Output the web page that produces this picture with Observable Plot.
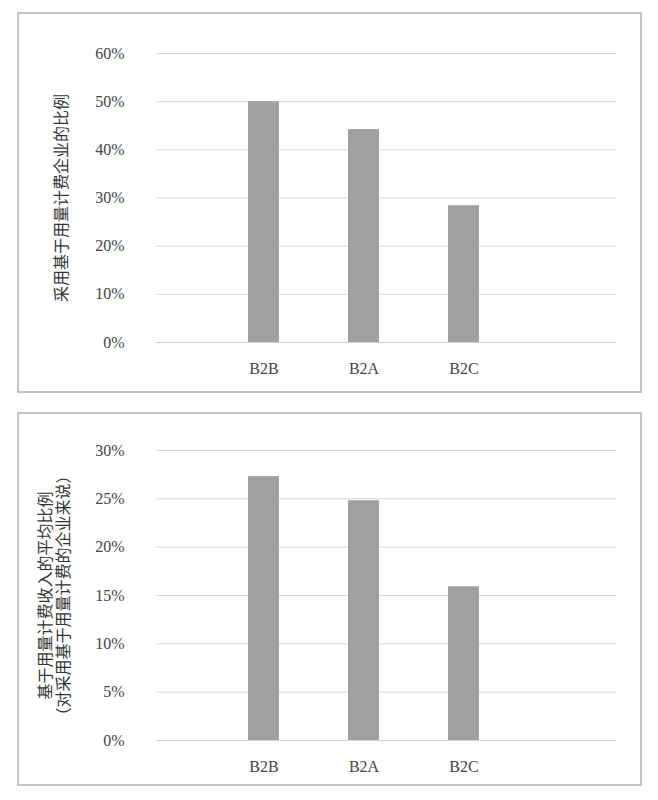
<!DOCTYPE html>
<html><head><meta charset="utf-8">
<script src="https://cdn.jsdelivr.net/npm/d3@7"></script>
<script src="https://cdn.jsdelivr.net/npm/@observablehq/plot@0.6"></script>
<style>
body{margin:0;background:#fff;font-family:"Liberation Serif","Noto Sans CJK SC",serif;}
.panel{position:absolute;left:17px;width:621px;border:2px solid #c4c4c4;background:#fff}
</style></head><body>
<div class="panel" id="p1" style="top:12px;height:377px"></div>
<div class="panel" id="p2" style="top:412px;height:370px"></div>
<script>
const categories = ["B2B", "B2A", "B2C"]
// 采用基于用量计费企业的比例
const shareValues = [0.50, 0.442, 0.284]
const shareTicks = [0, 0.1, 0.2, 0.3, 0.4, 0.5, 0.6]
// 基于用量计费收入的平均比例
const revenueValues = [0.273, 0.248, 0.159]
const revenueTicks = [0, 0.05, 0.1, 0.15, 0.2, 0.25, 0.3]

function chart(values, ticks, label, h, mTop, mBottom, labelDx) {
  const data = categories.map((c, i) => ({cat: c, v: values[i]}))
  return Plot.plot({
    width: 621, height: h,
    marginLeft: 137, marginRight: 24, marginTop: mTop, marginBottom: mBottom,
    style: {fontFamily: '"Liberation Serif","Noto Sans CJK SC",serif', fontSize: "16px", color: "#444"},
    x: {domain: categories, range: [158, 530], padding: 0.69, label: null},
    y: {domain: [ticks[0], ticks[ticks.length - 1]], label: null},
    marks: [
      Plot.gridY(ticks, {stroke: "#d9d9d9", strokeOpacity: 1}),
      Plot.ruleY([0], {stroke: "#d0d0d0"}),
      Plot.barY(data, {x: "cat", y: "v", fill: "#a0a0a0"}),
      Plot.axisY(ticks, {tickSize: 0, tickPadding: 32, tickFormat: d3.format(".0%"), fontSize: 16}),
      Plot.axisX({tickSize: 0, tickPadding: 20, fontSize: 16}),
      Plot.text([label], {frameAnchor: "left", textAnchor: "middle", rotate: -90, dx: labelDx, fontSize: 16,
        fontFamily: '"Noto Sans CJK SC",serif', lineHeight: 1.1, fill: "#333"})
    ]
  })
}
d3.select("#p1").append(() => chart(shareValues, shareTicks, "采用基于用量计费企业的比例", 377, 39, 49, -95))
d3.select("#p2").append(() => chart(revenueValues, revenueTicks, "基于用量计费收入的平均比例\n（对采用基于用量计费的企业来说）", 370, 36, 44, -102))
</script>
</body></html>
